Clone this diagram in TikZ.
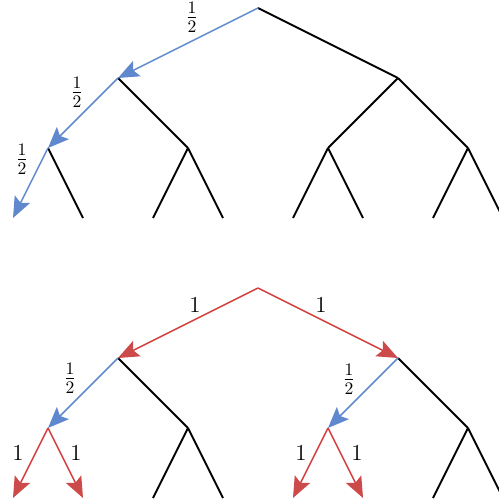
\documentclass[tikz,border=0pt]{standalone}
\usetikzlibrary{arrows.meta}
\definecolor{tblue}{RGB}{96,136,206}
\definecolor{tred}{RGB}{212,58,58}
\definecolor{tredhead}{RGB}{204,74,74}
\begin{document}
\begin{tikzpicture}[x=0.02cm,y=-0.02cm,
  blk/.style={draw=black,line width=1.05pt},
  bluearr/.style={draw=tblue,line width=0.85pt,-{Stealth[length=0.42cm,width=0.34cm,inset=0.08cm,color=tblue]}},
  redarr/.style={draw=tred,line width=0.85pt,-{Stealth[length=0.42cm,width=0.34cm,inset=0.08cm,color=tredhead]}},
  lab/.style={inner sep=0pt,font=\fontsize{13}{15}\selectfont},
  frac/.style={inner sep=0pt,font=\fontsize{14.5}{17}\selectfont}]
\useasboundingbox (0,0) rectangle (499,503);
% ---------- top tree ----------
\coordinate (A) at (258,8);
\coordinate (L) at (118,78);
\coordinate (R) at (398,78);
\coordinate (LL) at (48,148);
\coordinate (LR) at (188,148);
\coordinate (RL) at (328,148);
\coordinate (RR) at (468,148);
\coordinate (l1) at (13,218);
\coordinate (l2) at (83,218);
\coordinate (l3) at (153,218);
\coordinate (l4) at (223,218);
\coordinate (l5) at (293,218);
\coordinate (l6) at (363,218);
\coordinate (l7) at (433,218);
\coordinate (l8) at (503,218);
\draw[blk] (A) -- (R);
\draw[blk] (L) -- (LR);
\draw[blk] (R) -- (RL);
\draw[blk] (R) -- (RR);
\draw[blk] (LL) -- (l2);
\draw[blk] (LR) -- (l3);
\draw[blk] (LR) -- (l4);
\draw[blk] (RL) -- (l5);
\draw[blk] (RL) -- (l6);
\draw[blk] (RR) -- (l7);
\draw[blk] (RR) -- (l8);
\draw[bluearr] (A) -- (L);
\draw[bluearr] (L) -- (LL);
\draw[bluearr] (LL) -- (l1);
\node[frac] (t1) at (192,17) {$\frac{1}{2}$};
\node[frac] (t2) at (77,92) {$\frac{1}{2}$};
\node[frac] (t3) at (22,159) {$\frac{1}{2}$};
% ---------- bottom tree ----------
\coordinate (B) at (258,288);
\coordinate (BL) at (118,358);
\coordinate (BR) at (398,358);
\coordinate (BLL) at (48,428);
\coordinate (BLR) at (188,428);
\coordinate (BRL) at (328,428);
\coordinate (BRR) at (468,428);
\coordinate (m1) at (13,498);
\coordinate (m2) at (83,498);
\coordinate (m3) at (153,498);
\coordinate (m4) at (223,498);
\coordinate (m5) at (293,498);
\coordinate (m6) at (363,498);
\coordinate (m7) at (433,498);
\coordinate (m8) at (503,498);
\draw[blk] (BL) -- (BLR);
\draw[blk] (BR) -- (BRR);
\draw[blk] (BLR) -- (m3);
\draw[blk] (BLR) -- (m4);
\draw[blk] (BRR) -- (m7);
\draw[blk] (BRR) -- (m8);
\draw[redarr] (B) -- (BL);
\draw[redarr] (B) -- (BR);
\draw[bluearr] (BL) -- (BLL);
\draw[bluearr] (BR) -- (BRL);
\draw[redarr] (BLL) -- (m1);
\draw[redarr] (BLL) -- (m2);
\draw[redarr] (BRL) -- (m5);
\draw[redarr] (BRL) -- (m6);
\node[lab] (b1) at (195,305) {1};
\node[lab] (b2) at (321,305) {1};
\node[frac] (b3) at (70,378) {$\frac{1}{2}$};
\node[frac] (b4) at (349,379) {$\frac{1}{2}$};
\node[lab] (b5) at (18,453) {1};
\node[lab] (b6) at (76,453) {1};
\node[lab] (b7) at (301,453) {1};
\node[lab] (b8) at (357,453) {1};
\end{tikzpicture}
\end{document}
